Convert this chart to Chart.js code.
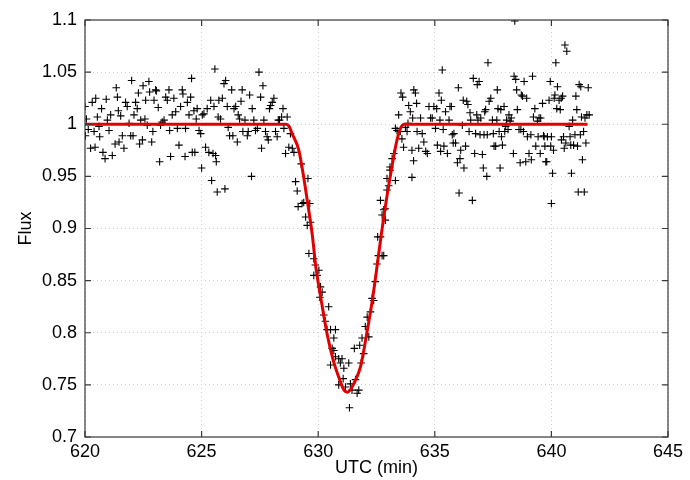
<!DOCTYPE html>
<html>
<head>
<meta charset="utf-8">
<script src="https://cdn.jsdelivr.net/npm/chart.js@4"></script>
<style>
  html, body { margin: 0; padding: 0; background: #fff; }
</style>
</head>
<body>
<canvas id="transit" width="690" height="480"></canvas>
<script>
const preTime = [
  620.0, 620.02, 620.06, 620.14, 620.24, 620.31, 620.39, 620.43, 620.46, 620.53,
  620.6, 620.63, 620.71, 620.77, 620.86, 620.91, 620.96, 621.03, 621.1, 621.17,
  621.29, 621.34, 621.39, 621.43, 621.46, 621.53, 621.6, 621.67, 621.74, 621.81,
  621.89, 621.96, 622.0, 622.06, 622.1, 622.17, 622.24, 622.29, 622.34, 622.39,
  622.46, 622.49, 622.57, 622.6, 622.67, 622.74, 622.77, 622.86, 622.91, 622.96,
  623.03, 623.06, 623.14, 623.2, 623.24, 623.31, 623.39, 623.46, 623.53, 623.6,
  623.63, 623.67, 623.74, 623.81, 623.89, 623.96, 624.03, 624.1, 624.17, 624.2,
  624.29, 624.31, 624.39, 624.46, 624.53, 624.57, 624.6, 624.67, 624.71, 624.77,
  624.81, 624.89, 624.96, 625.0, 625.03, 625.1, 625.17, 625.24, 625.31, 625.39,
  625.43, 625.49, 625.53, 625.57, 625.6, 625.63, 625.67, 625.71, 625.74, 625.81,
  625.89, 625.96, 626.0, 626.03, 626.1, 626.14, 626.2, 626.29, 626.34, 626.39,
  626.46, 626.53, 626.57, 626.63, 626.69, 626.74, 626.77, 626.86, 626.96, 627.0,
  627.06, 627.14, 627.17, 627.24, 627.31, 627.39, 627.46, 627.53, 627.57, 627.63,
  627.67, 627.74, 627.81, 627.86, 627.91, 627.96, 628.03, 628.1, 628.17, 628.24,
  628.29, 628.34, 628.43, 628.49, 628.53, 628.6, 628.67, 628.74, 628.81, 628.89,
  628.96, 629.03, 629.1, 629.14
];
const preFlux = [
  1.017, 0.989, 1.005, 0.995, 0.977, 1.021, 0.993, 0.978, 1.025, 1.007,
  0.998, 0.988, 1.015, 0.973, 0.967, 1.024, 1.004, 0.994, 1.009, 0.970,
  0.981, 1.035, 1.026, 1.013, 0.983, 1.008, 0.989, 0.977, 1.021, 1.017,
  1.001, 0.989, 1.042, 0.989, 1.009, 1.021, 1.015, 1.030, 0.981, 1.004,
  0.985, 1.037, 1.005, 1.023, 0.999, 1.041, 1.031, 0.983, 0.993, 1.023,
  1.033, 1.032, 1.016, 0.964, 0.999, 1.002, 1.004, 1.026, 1.023, 1.033,
  0.994, 0.969, 1.009, 1.025, 1.012, 0.996, 0.980, 1.017, 1.033, 1.029,
  0.969, 0.996, 1.021, 1.009, 1.026, 1.044, 0.973, 1.013, 0.973, 1.005,
  1.015, 0.994, 0.991, 0.958, 1.009, 1.010, 0.978, 1.015, 0.973, 1.023,
  0.946, 0.972, 1.017, 1.053, 0.970, 0.964, 0.935, 1.007, 1.023, 1.005,
  1.025, 1.039, 0.938, 1.042, 1.017, 0.997, 0.989, 1.033, 0.989, 1.015,
  1.017, 0.983, 1.009, 1.005, 1.022, 1.033, 0.993, 1.004, 0.989, 0.993,
  1.028, 0.950, 1.015, 1.004, 0.994, 0.996, 1.050, 1.026, 0.977, 1.037,
  1.004, 0.993, 0.988, 0.985, 1.015, 1.018, 1.021, 1.025, 0.993, 0.988,
  1.004, 1.004, 1.007, 1.015, 0.996, 0.972, 1.007, 0.978, 0.991, 0.977,
  0.973, 0.945, 0.936, 0.921
];

const dipTime = [
  629.27, 629.56, 629.31, 629.38, 629.64, 629.46, 629.53, 629.67, 629.6, 629.81,
  629.88, 629.81, 629.95, 630.03, 630.1, 630.17, 630.07, 630.24, 630.31, 630.38,
  630.45, 630.53, 630.6, 630.67, 630.74, 630.67, 630.74, 630.53, 630.88, 631.02,
  630.95, 631.1, 630.88, 631.07, 631.17, 631.31, 631.38, 631.45, 631.55, 631.67,
  631.74, 631.6, 631.78, 631.84, 631.88, 631.95, 632.02, 632.1, 632.17, 632.24,
  632.31, 632.38, 632.45, 632.52, 632.58, 632.67, 632.74, 632.81, 632.55, 632.74,
  632.67, 632.81, 632.88, 632.88, 632.95, 633.02, 632.95, 633.08, 633.17, 633.24,
  633.31, 633.08, 633.31, 633.45, 633.38, 633.52, 633.74, 633.81, 633.88, 633.59,
  633.66, 634.02, 634.09, 634.24, 634.31, 634.02, 631.34, 633.55, 633.62, 634.1,
  634.17, 634.22, 633.95, 633.85, 634.05
];
const dipFlux = [
  0.962, 0.948, 0.924, 0.925, 0.924, 0.911, 0.903, 0.906, 0.876, 0.871,
  0.865, 0.855, 0.855, 0.860, 0.844, 0.839, 0.834, 0.817, 0.811, 0.803,
  0.825, 0.803, 0.785, 0.795, 0.803, 0.783, 0.777, 0.769, 0.775, 0.775,
  0.771, 0.766, 0.750, 0.756, 0.748, 0.771, 0.751, 0.745, 0.785, 0.742,
  0.745, 0.755, 0.788, 0.771, 0.795, 0.780, 0.806, 0.815, 0.796, 0.820,
  0.833, 0.831, 0.849, 0.866, 0.874, 0.892, 0.874, 0.874, 0.892, 0.913,
  0.927, 0.918, 0.919, 0.908, 0.937, 0.941, 0.948, 0.956, 0.967, 0.972,
  0.946, 0.959, 0.996, 1.009, 0.994, 0.993, 0.997, 0.993, 1.018, 0.986,
  0.978, 0.975, 0.965, 0.993, 0.977, 0.949, 0.728, 1.030, 1.026, 1.033,
  1.030, 1.020, 1.012, 1.001, 1.006
];

const postTime = [
  634.39, 634.46, 634.53, 634.61, 634.68, 634.75, 634.82, 634.89, 634.96, 635.03,
  635.08, 635.11, 635.18, 635.22, 635.25, 635.28, 635.32, 635.36, 635.39, 635.46,
  635.54, 635.61, 635.65, 635.71, 635.75, 635.79, 635.82, 635.89, 635.97, 636.01,
  636.04, 636.08, 636.11, 636.18, 636.22, 636.25, 636.32, 636.37, 636.42, 636.47,
  636.51, 636.54, 636.61, 636.65, 636.71, 636.75, 636.8, 636.82, 636.85, 636.9,
  636.94, 636.97, 637.04, 637.08, 637.11, 637.14, 637.18, 637.23, 637.25, 637.28,
  637.33, 637.4, 637.47, 637.51, 637.54, 637.61, 637.66, 637.68, 637.71, 637.76,
  637.8, 637.83, 637.86, 637.9, 637.97, 638.0, 638.04, 638.08, 638.14, 638.18,
  638.23, 638.28, 638.37, 638.4, 638.43, 638.47, 638.51, 638.54, 638.61, 638.66,
  638.69, 638.71, 638.76, 638.8, 638.83, 638.9, 638.94, 638.97, 639.04, 639.12,
  639.14, 639.19, 639.23, 639.29, 639.33, 639.4, 639.43, 639.47, 639.52, 639.54,
  639.62, 639.66, 639.69, 639.72, 639.76, 639.8, 639.83, 639.9, 639.95, 639.97,
  640.0, 640.05, 640.09, 640.12, 640.15, 640.19, 640.23, 640.26, 640.33, 640.38,
  640.42, 640.43, 640.48, 640.52, 640.55, 640.58, 640.62, 640.66, 640.76, 640.8,
  640.83, 640.86, 640.91, 640.95, 641.01, 641.05, 641.09, 641.12, 641.15, 641.19,
  641.24, 641.26, 641.29, 641.33, 641.38, 641.41, 641.44, 641.48, 641.52, 641.58,
  641.62, 640.0
];
const postFlux = [
  1.006, 0.991, 0.983, 0.974, 0.972, 1.017, 1.006, 1.006, 1.017, 0.996,
  1.015, 0.980, 1.030, 1.004, 0.974, 1.023, 1.052, 0.995, 0.979, 1.012,
  0.972, 1.004, 1.017, 1.017, 0.990, 0.982, 0.991, 0.982, 0.963, 1.035,
  0.934, 0.967, 0.975, 0.999, 1.023, 0.958, 0.979, 1.022, 1.019, 0.993,
  1.011, 1.004, 0.927, 1.044, 0.972, 0.991, 1.009, 1.038, 1.004, 1.041,
  0.990, 1.006, 0.971, 0.958, 0.990, 1.012, 1.014, 0.950, 0.990, 1.059,
  1.022, 1.025, 1.004, 0.991, 0.979, 0.979, 1.004, 1.033, 1.015, 0.993,
  0.958, 1.014, 0.988, 0.980, 1.017, 0.993, 0.998, 1.004, 0.995, 1.009,
  1.003, 1.006, 0.972, 1.046, 1.099, 1.043, 1.033, 1.014, 0.995, 0.963,
  0.995, 1.028, 1.027, 0.993, 1.041, 0.964, 1.025, 0.988, 0.972, 0.990,
  0.966, 1.046, 1.007, 1.015, 0.979, 1.003, 0.988, 1.006, 0.972, 1.006,
  1.020, 0.989, 0.988, 0.979, 0.964, 0.964, 0.988, 1.023, 1.041, 0.979,
  0.988, 0.953, 0.975, 1.025, 1.028, 1.059, 1.015, 1.036, 1.023, 1.014,
  1.025, 0.985, 1.027, 0.988, 0.977, 1.076, 0.982, 1.070, 0.998, 0.988,
  0.980, 0.953, 1.004, 0.980, 0.990, 1.027, 1.014, 0.979, 0.935, 1.038,
  0.990, 1.036, 1.007, 0.966, 0.993, 0.935, 1.006, 0.982, 1.009, 1.035,
  1.009, 0.924
];

// fitted transit model
const modelTime = [
  620.0, 628.62, 628.75, 628.88, 629.17, 629.38, 629.53, 629.74, 629.9, 630.13,
  630.38, 630.64, 630.92, 631.08, 631.24, 631.4, 631.52, 631.81, 632.08, 632.32,
  632.52, 632.71, 632.92, 633.16, 633.38, 633.55, 633.7, 641.55
];
const modelFlux = [
  1.0, 1.0, 0.998, 0.991, 0.975, 0.949, 0.927, 0.895, 0.863, 0.831,
  0.799, 0.774, 0.755, 0.746, 0.743, 0.746, 0.751, 0.767, 0.799, 0.831,
  0.863, 0.895, 0.927, 0.959, 0.985, 0.997, 1.0, 1.0
];

const xTicks = [620, 625, 630, 635, 640, 645];
const yTicks = [0.7, 0.75, 0.8, 0.85, 0.9, 0.95, 1, 1.05, 1.1];

const toPoints = (xs, ys) => xs.map((x, i) => ({ x: x, y: ys[i] }));

const observed = [].concat(
  toPoints(preTime, preFlux),
  toPoints(dipTime, dipFlux),
  toPoints(postTime, postFlux)
);

const FONT = '"Liberation Sans", Arial, Helvetica, sans-serif';

// box around the plot with gnuplot-like inward ticks on all sides
const frame = {
  id: 'frame',
  afterDraw(chart) {
    const { ctx, chartArea: a, scales } = chart;
    const len = 6;
    ctx.save();
    ctx.strokeStyle = '#3a3a3a';
    ctx.lineWidth = 1.2;
    ctx.strokeRect(a.left, a.top, a.right - a.left, a.bottom - a.top);
    ctx.beginPath();
    xTicks.forEach((v) => {
      const px = scales.x.getPixelForValue(v);
      ctx.moveTo(px, a.bottom);
      ctx.lineTo(px, a.bottom - len);
      ctx.moveTo(px, a.top);
      ctx.lineTo(px, a.top + len);
    });
    yTicks.forEach((v) => {
      const py = scales.y.getPixelForValue(v);
      ctx.moveTo(a.left, py);
      ctx.lineTo(a.left + len, py);
      ctx.moveTo(a.right, py);
      ctx.lineTo(a.right - len, py);
    });
    ctx.stroke();
    ctx.restore();
  },
};

const ctx = document.getElementById('transit').getContext('2d');
new Chart(ctx, {
  data: {
    datasets: [
      {
        type: 'line',
        label: 'model',
        data: toPoints(modelTime, modelFlux),
        borderColor: '#e00000',
        borderWidth: 3,
        pointRadius: 0,
        fill: false,
        cubicInterpolationMode: 'monotone',
        order: 0,
      },
      {
        type: 'scatter',
        label: 'flux',
        data: observed,
        pointStyle: 'cross',
        pointRadius: 3.8,
        borderColor: '#000',
        borderWidth: 1.1,
        order: 1,
      },
    ],
  },
  options: {
    responsive: false,
    animation: false,
    layout: { padding: { top: 20, right: 22, left: 0, bottom: 0 } },
    plugins: {
      legend: { display: false },
      tooltip: { enabled: false },
    },
    scales: {
      x: {
        type: 'linear',
        min: 620,
        max: 645,
        afterBuildTicks: (scale) => { scale.ticks = xTicks.map((v) => ({ value: v })); },
        afterFit: (scale) => { scale.height = 43; },
        grid: { color: '#cfcfcf', lineWidth: 1, drawTicks: false },
        border: { display: false, dash: [1, 3] },
        ticks: {
          color: '#000',
          padding: 4,
          maxRotation: 0,
          font: { family: FONT, size: 18 },
        },
        title: {
          display: true,
          text: 'UTC (min)',
          color: '#000',
          padding: { top: 0, bottom: 1 },
          font: { family: FONT, size: 18 },
        },
      },
      y: {
        type: 'linear',
        min: 0.7,
        max: 1.1,
        afterBuildTicks: (scale) => { scale.ticks = yTicks.map((v) => ({ value: v })); },
        afterFit: (scale) => { scale.width = 85; },
        grid: { color: '#cfcfcf', lineWidth: 1, drawTicks: false },
        border: { display: false, dash: [1, 3] },
        ticks: {
          color: '#000',
          padding: 8,
          font: { family: FONT, size: 18 },
          callback: (v) => String(Number(v.toFixed(2))),
        },
        title: {
          display: true,
          text: 'Flux',
          color: '#000',
          padding: { top: 15, bottom: 0 },
          font: { family: FONT, size: 18 },
        },
      },
    },
  },
  plugins: [frame],
});
</script>
</body>
</html>
